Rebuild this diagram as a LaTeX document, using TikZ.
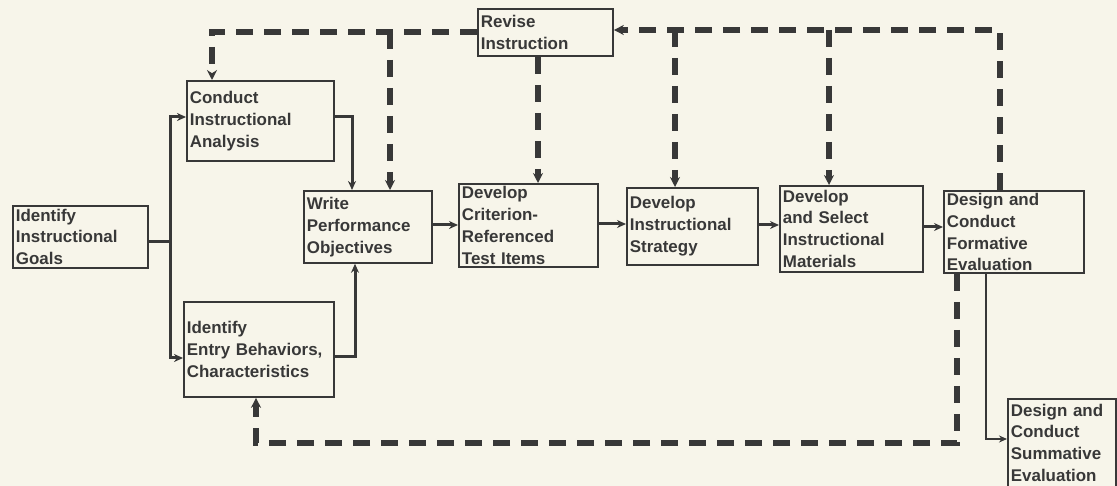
\documentclass[tikz,border=0pt]{standalone}
\usepackage{fontspec}
\setmainfont{Liberation Sans}
\usetikzlibrary{arrows.meta}
\definecolor{bg}{HTML}{F7F5EA}
\definecolor{ink}{HTML}{383838}
\tikzset{
  box/.style={draw=ink, line width=1.8bp, anchor=north west, inner xsep=3bp, inner ysep=2bp,
    align=left, text=ink, font=\fontsize{17}{22}\selectfont\bfseries},
  flow/.style={draw=ink, line width=3bp, -{Stealth[length=9bp,width=8bp]}},
  flowplain/.style={draw=ink, line width=3bp},
  thin flow/.style={draw=ink, line width=1.8bp, -{Stealth[length=8bp,width=7bp]}},
  fb/.style={draw=ink, line width=5.5bp, dash pattern=on 17bp off 11bp},
  fbarrow/.style={fb, -{Stealth[length=10bp,width=10bp]}},
}
\begin{document}
\begin{tikzpicture}[x=1bp,y=-1bp]
\path[use as bounding box, fill=bg] (0,0) rectangle (1117,486);
\clip (0,0) rectangle (1117,486);
% boxes
\node[box, minimum width=135bp, minimum height=62bp, text width=129bp] (goals) at (12,205) {Identify\\Instructional\\Goals};
\node[box, minimum width=147bp, minimum height=80bp, text width=141bp] (conduct) at (186,80) {Conduct\\Instructional\\Analysis};
\node[box, minimum width=128bp, minimum height=72bp, text width=122bp] (write) at (303,190) {Write\\Performance\\Objectives};
\node[box, minimum width=139bp, minimum height=83bp, text width=133bp] (crit) at (458,183) {Develop\\Criterion-\\Referenced\\Test Items};
\node[box, minimum width=131bp, minimum height=77bp, text width=125bp] (strat) at (626,187) {Develop\\Instructional\\Strategy};
\node[box, minimum width=143bp, minimum height=86bp, text width=137bp] (mat) at (779,185) {Develop\\and Select\\Instructional\\Materials};
\node[box, minimum width=140bp, minimum height=82bp, text width=134bp] (form) at (943,190) {Design and\\Conduct\\Formative\\Evaluation};
\node[box, minimum width=150bp, minimum height=95bp, text width=144bp] (entry) at (183,301) {Identify\\Entry Behaviors,\\Characteristics};
\node[box, minimum width=135bp, minimum height=47bp, text width=129bp] (revise) at (477,8) {Revise\\Instruction};
\node[box, minimum width=108bp, minimum height=88bp, text width=102bp] (summ) at (1007,398) {Design and\\Conduct\\Summative\\Evaluation};
% solid connectors
\coordinate (split) at (170,242);
\draw[flowplain] (goals.east |- split) -- (split);
\draw[flow] (170,358) -- (170,117) -- (conduct.west |- 0,117);
\draw[flow] (split) -- (170,358) -- (entry.west |- 0,358);
\draw[flow] (conduct.east |- 0,117) -| (352,0 |- write.north);
\draw[flow] (entry.east |- 0,357) -| (355,0 |- write.south);
\draw[flow] (write.east |- 0,225) -- (crit.west |- 0,225);
\draw[flow] (crit.east |- 0,224) -- (strat.west |- 0,224);
\draw[flow] (strat.east |- 0,225) -- (mat.west |- 0,225);
\draw[flow] (mat.east |- 0,227) -- (form.west |- 0,227);
\draw[thin flow] (986,0 |- form.south) -- (986,439) -- (summ.west |- 0,439);
% dashed feedback
\draw[fbarrow] (1000,0 |- form.north) -- (1000,30) -- (revise.east |- 0,30);
\draw[fbarrow] (675,30) -- (675,0 |- strat.north);
\draw[fbarrow] (829,30) -- (829,0 |- mat.north);
\draw[fbarrow] (538,0 |- revise.south) -- (538,0 |- crit.north);
\draw[fbarrow] (revise.west |- 0,32) -- (212,32) -- (212,0 |- conduct.north);
\draw[fbarrow] (390,32) -- (390,0 |- write.north);
\draw[fbarrow] (957,0 |- form.south) -- (957,443) -- (256,443) -- (256,0 |- entry.south);
\end{tikzpicture}
\end{document}
